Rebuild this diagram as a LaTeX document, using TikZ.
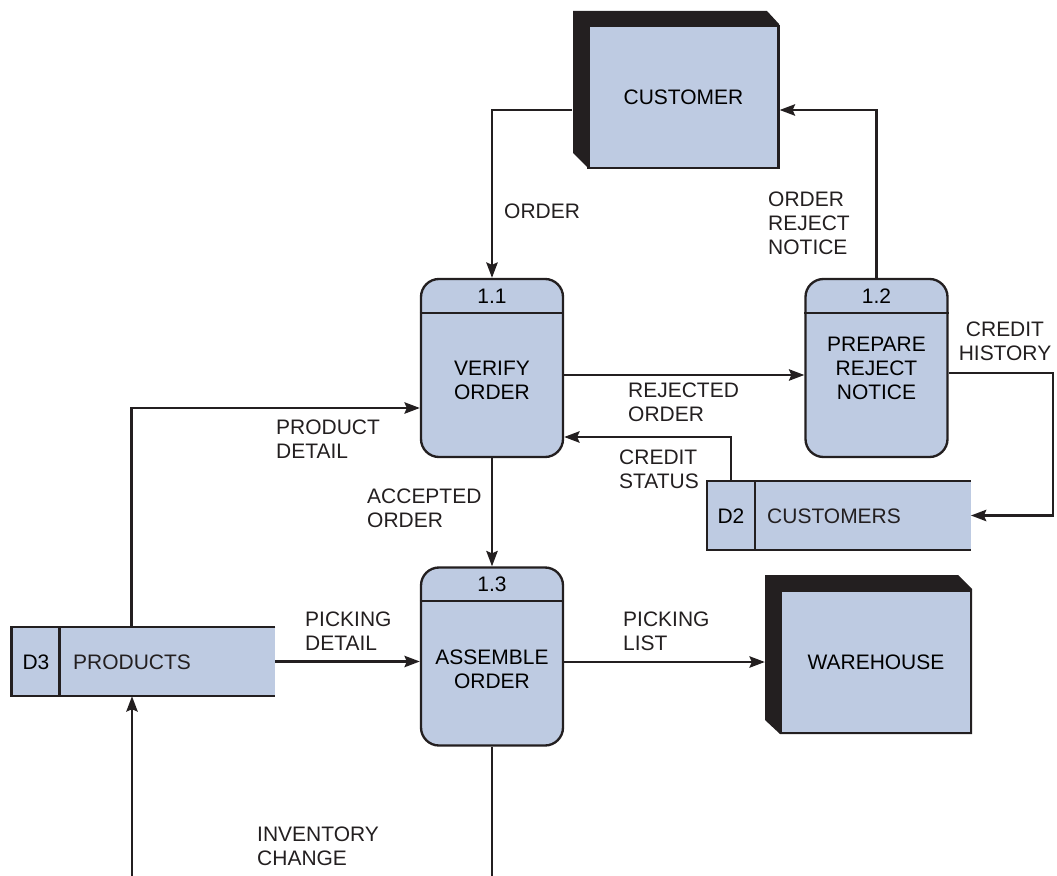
\documentclass[tikz,border=0pt]{standalone}
\usepackage{fontspec}
\setmainfont{Liberation Sans}
\usetikzlibrary{calc,arrows.meta}
\definecolor{ink}{RGB}{35,31,32}
\definecolor{dfdblue}{RGB}{190,203,226}
\begin{document}
\begin{tikzpicture}[x=0.03cm, y=-0.03cm, font=\fontsize{17.9}{20.4}\selectfont]
      \tikzset{process/.style={draw=ink,fill=dfdblue,line width=2pt,rounded corners=0.54cm,
                               minimum width=4.26cm,minimum height=5.34cm,inner sep=0pt},
               entity/.style={draw=ink,fill=dfdblue,line width=2pt,minimum width=5.7cm,
                              minimum height=4.26cm,inner sep=0pt},
               store/.style={fill=dfdblue,minimum width=7.9cm,minimum height=2.07cm,inner sep=0pt},
               flow/.style={draw=ink,line width=2pt,-{Stealth[length=0.46cm,width=0.34cm,inset=0.07cm]}},
               line/.style={draw=ink,line width=2pt},
               lbl/.style={inner sep=0pt,anchor=west,align=left,text=ink}}
      \useasboundingbox (0,0) rectangle (1057,876);

      % External entities (black shadow first)
      \fill[ink] (573,11) -- (767,11) -- (779,24) -- (779,168) -- (588,168) -- (573,153) -- cycle;
      \node[entity] (cust) at (683.5,97) {CUSTOMER};
      \fill[ink] (765,575) -- (958,575) -- (972,589) -- (972,734) -- (780,734) -- (765,720) -- cycle;
      \node[entity] (wh) at (876,662) {WAREHOUSE};

      % Processes
      \node[process] (p11) at (492,368) {};
      \draw[line] ($(p11.north west)+(0,35)$) -- ($(p11.north east)+(0,35)$);
      \node (n11) at (492,296) {1.1};
      \node[align=center] (t11) at (492,380) {VERIFY\\ORDER};

      \node[process] (p12) at (876.5,368) {};
      \draw[line] ($(p12.north west)+(0,35)$) -- ($(p12.north east)+(0,35)$);
      \node (n12) at (876.5,296) {1.2};
      \node[align=center] (t12) at (876.5,368) {PREPARE\\REJECT\\NOTICE};

      \node[process] (p13) at (492,656.5) {};
      \draw[line] ($(p13.north west)+(0,35)$) -- ($(p13.north east)+(0,35)$);
      \node (n13) at (492,584) {1.3};
      \node[align=center] (t13) at (492,669) {ASSEMBLE\\ORDER};

      % Data stores (open on the right)
      \node[store] (d2) at (839,515.5) {};
      \draw[line] (d2.north east) -- (d2.north west) -- (d2.south west) -- (d2.south east);
      \draw[line] ($(d2.north west)+(48,0)$) -- ($(d2.south west)+(48,0)$);
      \node (d2id) at (731,516) {D2};
      \node[lbl] (d2name) at (767,516) {CUSTOMERS};

      \node[store] (d3) at (143.5,661.5) {};
      \draw[line] (d3.north east) -- (d3.north west) -- (d3.south west) -- (d3.south east);
      \draw[line] ($(d3.north west)+(48,0)$) -- ($(d3.south west)+(48,0)$);
      \node (d3id) at (36,662) {D3};
      \node[lbl] (d3name) at (73,662) {PRODUCTS};

      % Free ends at the bottom edge
      \coordinate (out13) at (492,876);
      \coordinate (invin) at (132,876);

      % Data flows
      \draw[flow] ($(cust.west)+(-15,13)$) -| (p11.north);
      \draw[flow] (p12.north) |- ($(cust.east)+(0,13)$);
      \draw[flow] ($(p11.east)+(0,7)$) -- ($(p12.west)+(0,7)$);
      \draw[flow] ($(p12.east)+(0,5)$) -- ++(104,0) |- (d2.east);
      \draw[flow] ($(d2.north west)+(24,0)$) |- ($(p11.east)+(0,69)$);
      \draw[flow] (p11.south) -- (p13.north);
      \draw[flow] ($(d3.north west)+(120,0)$) |- ($(p11.west)+(0,40)$);
      \draw[flow] (d3.east) -- (d3.east -| p13.west);
      \draw[flow] (wh.west -| p13.east) -- ($(wh.west)+(-15,0)$);
      \draw[line] (p13.south) -- (out13);
      \draw[flow] (invin) -- (invin |- d3.south);

      % Flow labels
      \node[lbl] (lorder) at (504,211) {ORDER};
      \node[lbl] (lreject) at (768,223) {ORDER\\REJECT\\NOTICE};
      \node[lbl] (lrejected) at (628,402) {REJECTED\\ORDER};
      \node[inner sep=0pt,align=center,text=ink] (lhistory) at (1005,341) {CREDIT\\HISTORY};
      \node[lbl] (lstatus) at (619,469) {CREDIT\\STATUS};
      \node[lbl] (laccepted) at (367,508) {ACCEPTED\\ORDER};
      \node[lbl] (lproduct) at (276,439) {PRODUCT\\DETAIL};
      \node[lbl] (lpickdet) at (305,631) {PICKING\\DETAIL};
      \node[lbl] (lpicklist) at (623,631) {PICKING\\LIST};
      \node[lbl] (linv) at (257,846) {INVENTORY\\CHANGE};
\end{tikzpicture}
\end{document}
